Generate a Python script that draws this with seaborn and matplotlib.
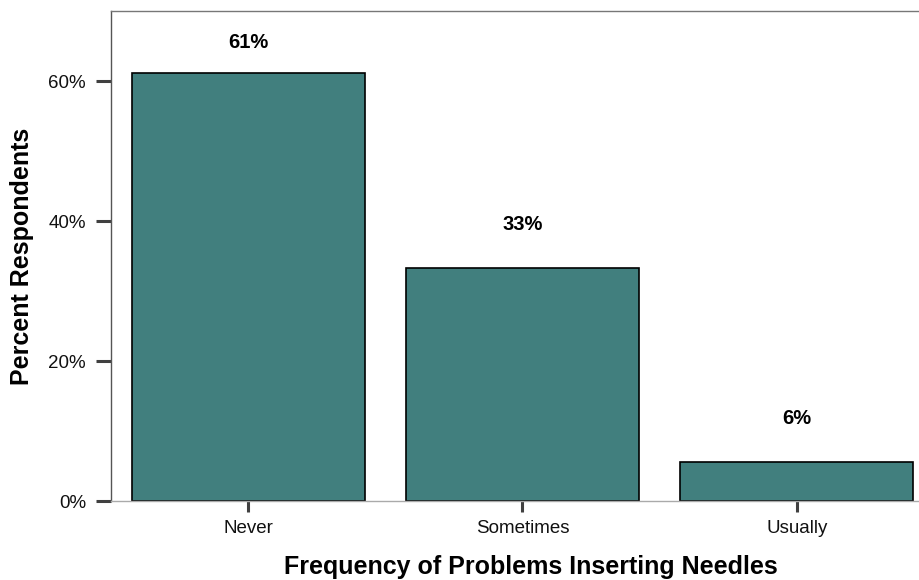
import numpy as np
import pandas as pd
import matplotlib
matplotlib.use("Agg")
import matplotlib.pyplot as plt
import seaborn as sns
from matplotlib.ticker import PercentFormatter

# values (percent of respondents)
categories = ["Never", "Sometimes", "Usually"]
percents = [61.1, 33.3, 5.6]
bar_labels = ["61%", "33%", "6%"]

df = pd.DataFrame({"freq": categories, "pct": percents})

sns.set_theme(style="white")
plt.rcParams['font.family'] = ['Liberation Sans', 'DejaVu Sans']

W, H = 920, 580
fig = plt.figure(figsize=(W / 100, H / 100), dpi=100)
# axes box in pixels: left 111, right ~934 (past the figure edge), top 11, bottom 501
ax = fig.add_axes([111 / W, (H - 501) / H, (934 - 111) / W, (501 - 11) / H])

sns.barplot(data=df, x="freq", y="pct", color="#417f7e", saturation=1,
            width=0.85, edgecolor="black", linewidth=1.2, ax=ax)

ax.set_ylim(0, 70)
ax.set_xlim(-0.5, 2.5)
ax.set_yticks([0, 20, 40, 60])
ax.yaxis.set_major_formatter(PercentFormatter(decimals=0))

# value labels above bars
for i, (v, lab) in enumerate(zip(percents, bar_labels)):
    ax.text(i, min(v + 6.2, 65.5), lab, ha="center", va="center",
            fontsize=14.5, fontweight="bold", color="black")

ax.set_xlabel("Frequency of Problems Inserting Needles", fontsize=18,
              fontweight="bold", color="black")
ax.set_ylabel("Percent Respondents", fontsize=18, fontweight="bold", color="black")
ax.xaxis.set_label_coords((531 - 111) / (934 - 111), -0.11)
ax.yaxis.set_label_coords((34 - 111) / (934 - 111), 0.5)

ax.tick_params(axis="y", which="major", left=True, length=11, width=2.2,
               color="#404040", labelsize=13.5, pad=7, labelcolor="#111111")
ax.tick_params(axis="x", which="major", bottom=True, length=8, width=2.2,
               color="#404040", labelsize=13.5, pad=6, labelcolor="#111111")

for side in ["left", "top", "right", "bottom"]:
    ax.spines[side].set_visible(True)
    ax.spines[side].set_linewidth(1.0)
ax.spines["left"].set_color("#555555")
ax.spines["top"].set_color("#777777")
ax.spines["right"].set_color("#777777")
ax.spines["bottom"].set_color("#aaaaaa")

fig.savefig("out.png", dpi=100)
